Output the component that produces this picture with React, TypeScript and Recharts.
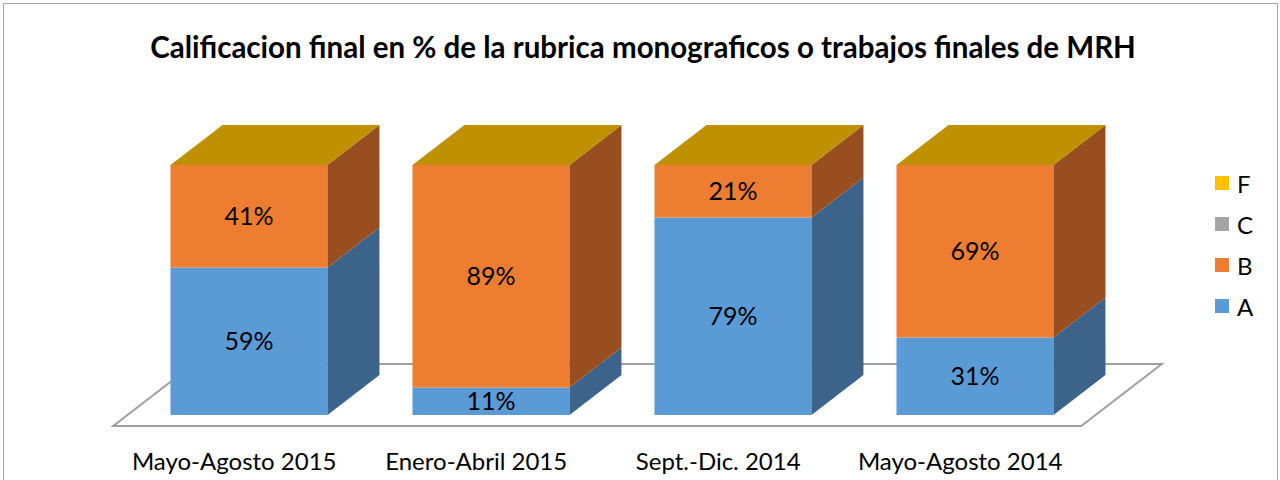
import React from 'react';
import { BarChart, Bar, XAxis, YAxis, LabelList, ReferenceArea } from 'recharts';

const categories = ['Mayo-Agosto 2015', 'Enero-Abril 2015', 'Sept.-Dic. 2014', 'Mayo-Agosto 2014'];
const seriesA = [59, 11, 79, 31];
const seriesB = [41, 89, 21, 69];
const seriesC = [0, 0, 0, 0];
const seriesF = [0, 0, 0, 0];
const seriesKeys = ['A', 'B', 'C', 'F'];
const legendOrder = ['F', 'C', 'B', 'A'];

const TITLE = 'Calificacion final en % de la rubrica monograficos o trabajos finales de MRH';

const frontColors: Record<string, string> = { A: '#5B9BD5', B: '#ED7D31', C: '#A5A5A5', F: '#FFC000' };
const sideColors: Record<string, string> = { A: '#3C648A', B: '#984E1E', C: '#6B6B6B', F: '#A67C00' };
const topColors: Record<string, string> = { A: '#3C648A', B: '#BF9000', C: '#BF9000', F: '#BF9000' };

const data = categories.map((cat, i) => ({
  cat,
  A: seriesA[i],
  B: seriesB[i],
  C: seriesC[i],
  F: seriesF[i],
}));

const FONT = 'Lato, "Open Sans", sans-serif';
const DEPTH_RATIO = 0.331;
const SLANT = 0.77;

const makeShape = (key: string) => (props: any) => {
  const { x, y, width, height, payload } = props;
  if (!height || height <= 0) return <g />;
  const idx = seriesKeys.indexOf(key);
  const isTop = seriesKeys.slice(idx + 1).every((k) => !payload[k]);
  const dx = width * DEPTH_RATIO;
  const dy = dx * SLANT;
  const side = `${x + width},${y} ${x + width + dx},${y - dy} ${x + width + dx},${y + height - dy} ${x + width},${y + height}`;
  const top = `${x},${y} ${x + dx},${y - dy} ${x + width + dx},${y - dy} ${x + width},${y}`;
  return (
    <g>
      <rect x={x} y={y} width={width} height={height} fill={frontColors[key]} />
      <polygon points={side} fill={sideColors[key]} />
      {isTop && <polygon points={top} fill={topColors[key]} />}
    </g>
  );
};

const Floor = (props: any) => {
  const { x, y, width, height } = props;
  const bottom = y + height;
  const barDx = 157 * DEPTH_RATIO;
  const barDy = barDx * SLANT;
  const fdx = barDx / barDy;
  const frontOff = 0.275 * barDy;
  const backOff = 1.275 * barDy;
  const pts = [
    [x - frontOff * fdx, bottom + frontOff],
    [x + width - frontOff * fdx, bottom + frontOff],
    [x + width + backOff * fdx, bottom - backOff],
    [x + backOff * fdx, bottom - backOff],
  ]
    .map((p) => p.join(','))
    .join(' ');
  return <polygon points={pts} fill="#FFFFFF" stroke="#A0A0A0" strokeWidth={2} />;
};

const Tick = (props: any) => {
  const { x, y, payload } = props;
  const shift = 157 * DEPTH_RATIO * 0.275;
  return (
    <text
      x={x - shift}
      y={y}
      dy={37}
      textAnchor="middle"
      dominantBaseline="central"
      fontFamily={FONT}
      fontSize={24}
      fill="#000"
    >
      {payload.value}
    </text>
  );
};

export default function App() {
  return (
    <div
      style={{
        position: 'absolute',
        left: 0,
        top: 0,
        width: 1280,
        height: 480,
        background: '#fff',
        overflow: 'hidden',
        fontFamily: FONT,
      }}
    >
      <div
        style={{
          position: 'absolute',
          left: 3,
          top: 3,
          width: 1273,
          height: 500,
          border: '1.5px solid #A6A6A6',
        }}
      />
      <div
        style={{
          position: 'absolute',
          left: 0,
          width: 1286,
          top: 28,
          textAlign: 'center',
          fontWeight: 700,
          fontSize: 29.5,
          lineHeight: '38px',
          color: '#000',
        }}
      >
        {TITLE}
      </div>
      <div style={{ position: 'absolute', left: 0, top: 0 }}>
        <BarChart
          width={1280}
          height={480}
          data={data}
          margin={{ top: 165, right: 184.5, bottom: 0, left: 127.5 }}
          barSize={157}
        >
          <XAxis dataKey="cat" axisLine={false} tickLine={false} height={65} tick={<Tick />} interval={0} />
          <YAxis hide domain={[0, 100]} type="number" />
          <ReferenceArea y1={0} y2={100} shape={<Floor />} ifOverflow="visible" />
          {seriesKeys.map((k) => (
            <Bar key={k} dataKey={k} stackId="s" fill={frontColors[k]} isAnimationActive={false} shape={makeShape(k)}>
              <LabelList
                dataKey={k}
                position="center"
                formatter={(v: any) => (v ? `${v}%` : '')}
                style={{ fontFamily: FONT, fontSize: 25, fill: '#000' }}
              />
            </Bar>
          ))}
        </BarChart>
      </div>
      {legendOrder.map((k, i) => (
        <div
          key={k}
          style={{
            position: 'absolute',
            left: 1215,
            top: 183 + i * 41 - 14,
            height: 28,
            display: 'flex',
            alignItems: 'center',
            fontSize: 24,
            color: '#000',
          }}
        >
          <div style={{ width: 14, height: 14, background: frontColors[k], marginRight: 8 }} />
          <span>{k}</span>
        </div>
      ))}
    </div>
  );
}
